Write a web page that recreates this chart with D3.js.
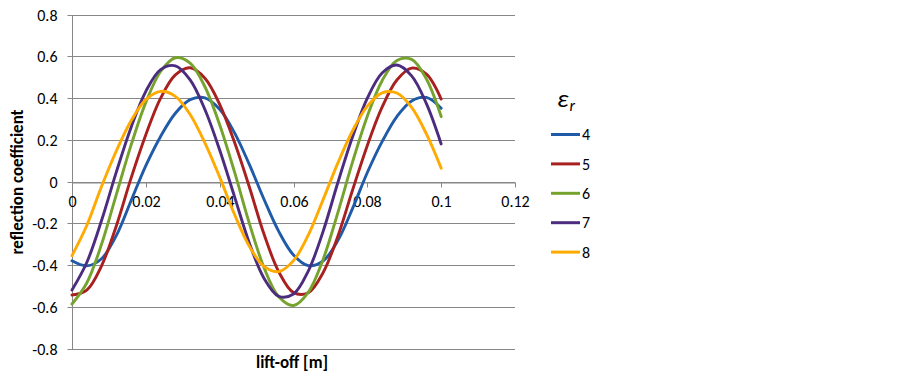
<!DOCTYPE html>
<html>
<head>
<meta charset="utf-8">
<script src="https://cdn.jsdelivr.net/npm/d3@7"></script>
<style>
  html, body { margin: 0; padding: 0; background: #ffffff; }
  svg { display: block; }
  text { font-family: Carlito, Calibri, Lato, "Open Sans", sans-serif; fill: #000; }
</style>
</head>
<body>
<svg id="chart" width="902" height="380"></svg>
<script>
// ---- data ----
const liftOff = [0, 0.004, 0.008, 0.012, 0.016, 0.02, 0.024, 0.028, 0.032, 0.036, 0.04,
  0.044, 0.048, 0.052, 0.056, 0.06, 0.064, 0.068, 0.072, 0.076, 0.08, 0.084, 0.088, 0.092, 0.096, 0.1];

const er4 = [-0.38, -0.404, -0.370, -0.259, -0.092, 0.076, 0.216, 0.327, 0.392, 0.401, 0.346,
  0.234, 0.083, -0.085, -0.239, -0.352, -0.403, -0.381, -0.283, -0.129, 0.043, 0.191, 0.311, 0.386, 0.403, 0.351];
const er5 = [-0.544, -0.520, -0.404, -0.213, 0.016, 0.224, 0.399, 0.511, 0.545, 0.495, 0.370,
  0.189, -0.024, -0.252, -0.432, -0.532, -0.533, -0.437, -0.263, -0.041, 0.173, 0.356, 0.486, 0.543, 0.514, 0.395];
const er6 = [-0.587, -0.486, -0.301, -0.063, 0.174, 0.379, 0.527, 0.593, 0.567, 0.454, 0.272,
  0.047, -0.198, -0.412, -0.552, -0.594, -0.531, -0.374, -0.150, 0.094, 0.313, 0.483, 0.580, 0.585, 0.491, 0.311];
const er7 = [-0.52, -0.388, -0.187, 0.045, 0.259, 0.432, 0.536, 0.554, 0.487, 0.345, 0.151,
  -0.071, -0.293, -0.463, -0.550, -0.539, -0.429, -0.240, -0.006, 0.214, 0.399, 0.520, 0.558, 0.506, 0.373, 0.18];
const er8 = [-0.355, -0.211, -0.024, 0.146, 0.291, 0.392, 0.432, 0.408, 0.321, 0.185, 0.021,
  -0.157, -0.309, -0.407, -0.432, -0.379, -0.257, -0.088, 0.088, 0.243, 0.361, 0.425, 0.424, 0.355, 0.228, 0.064];

const seriesNames = ["4", "5", "6", "7", "8"];
const seriesValues = [er4, er5, er6, er7, er8];
const seriesColors = ["#1F5BA8", "#A8201F", "#76A32E", "#4B2C7E", "#FFAA00"];

const xTicks = [0, 0.02, 0.04, 0.06, 0.08, 0.1, 0.12];
const xTickLabels = ["0", "0.02", "0.04", "0.06", "0.08", "0.1", "0.12"];
const yTicks = [0.8, 0.6, 0.4, 0.2, 0, -0.2, -0.4, -0.6, -0.8];
const yTickLabels = ["0.8", "0.6", "0.4", "0.2", "0", "-0.2", "-0.4", "-0.6", "-0.8"];

const xTitle = "lift-off [m]";
const yTitle = "reflection coefficient";

// ---- layout ----
const svg = d3.select("#chart");
const plotLeft = 72, plotRight = 515, plotTop = 14.5, plotBottom = 348.5;
const gridColor = "#878787";
const tickFont = 16;

const x = d3.scaleLinear().domain([0, 0.12]).range([plotLeft, plotRight]);
const y = d3.scaleLinear().domain([-0.8, 0.8]).range([plotBottom, plotTop]);

svg.append("rect").attr("width", 902).attr("height", 380).attr("fill", "#fff");

// horizontal gridlines
svg.append("g")
  .selectAll("line")
  .data(yTicks)
  .join("line")
  .attr("x1", plotLeft).attr("x2", plotRight)
  .attr("y1", d => Math.round(y(d)) + 0.5).attr("y2", d => Math.round(y(d)) + 0.5)
  .attr("stroke", gridColor).attr("stroke-width", 1);

// y axis (vertical line at x=0 with outward ticks and labels)
const yAxis = d3.axisLeft(y)
  .tickValues(yTicks)
  .tickFormat((d, i) => yTickLabels[i])
  .tickSize(5)
  .tickSizeOuter(0)
  .tickPadding(10);
const yg = svg.append("g").attr("transform", `translate(${plotLeft + 0.5},0)`).call(yAxis);
yg.select(".domain").attr("stroke", gridColor).attr("d", `M0,${Math.round(plotTop)+0.5}V${Math.round(plotBottom)+0.5}`);
yg.selectAll(".tick line").attr("stroke", gridColor);
yg.selectAll(".tick").attr("transform", d => `translate(0,${Math.round(y(d)) + 0.5})`);
yg.selectAll(".tick text").attr("font-size", tickFont).attr("font-family", "Carlito, Calibri, Lato, sans-serif").attr("fill", "#000");

// x axis drawn at y = 0
const xAxis = d3.axisBottom(x)
  .tickValues(xTicks)
  .tickFormat((d, i) => xTickLabels[i])
  .tickSize(5)
  .tickSizeOuter(0)
  .tickPadding(8);
const y0 = Math.round(y(0)) + 0.5;
const xg = svg.append("g").attr("transform", `translate(0,${y0})`).call(xAxis);
xg.select(".domain").attr("stroke", gridColor);
xg.selectAll(".tick line").attr("stroke", gridColor);
xg.selectAll(".tick").attr("transform", d => `translate(${Math.round(x(d)) + 0.5},0)`);
xg.selectAll(".tick text").attr("font-size", tickFont).attr("font-family", "Carlito, Calibri, Lato, sans-serif").attr("fill", "#000");

// series lines
const line = d3.line()
  .x((d, i) => x(liftOff[i]))
  .y(d => y(d))
  .curve(d3.curveCatmullRom.alpha(0.5));

svg.append("g")
  .selectAll("path")
  .data(seriesValues)
  .join("path")
  .attr("d", d => line(d))
  .attr("fill", "none")
  .attr("stroke", (d, i) => seriesColors[i])
  .attr("stroke-width", 2.9)
  .attr("stroke-linejoin", "round")
  .attr("stroke-linecap", "round");

// axis titles
svg.append("text")
  .attr("x", 292).attr("y", 368)
  .attr("text-anchor", "middle")
  .attr("font-size", 17).attr("font-weight", "bold")
  .text(xTitle);

svg.append("text")
  .attr("transform", "translate(23,182) rotate(-90)")
  .attr("text-anchor", "middle")
  .attr("font-size", 17).attr("font-weight", "bold")
  .text(yTitle);

// legend
const legTitle = svg.append("text")
  .attr("x", 557).attr("y", 107)
  .attr("font-family", "'Liberation Serif', 'DejaVu Serif', serif")
  .attr("font-style", "italic")
  .attr("font-size", 25);
legTitle.append("tspan").text("ε");
legTitle.append("tspan").attr("dx", 1).attr("dy", 4).attr("font-size", 16).text("r");

const legend = svg.append("g")
  .selectAll("g")
  .data(seriesNames)
  .join("g")
  .attr("transform", (d, i) => `translate(551,${134.5 + i * 29.4})`);
legend.append("line")
  .attr("x1", 0).attr("x2", 29)
  .attr("stroke", (d, i) => seriesColors[i])
  .attr("stroke-width", 3);
legend.append("text")
  .attr("x", 31).attr("y", 0)
  .attr("dy", "0.36em")
  .attr("font-size", tickFont)
  .text(d => d);
</script>
</body>
</html>
